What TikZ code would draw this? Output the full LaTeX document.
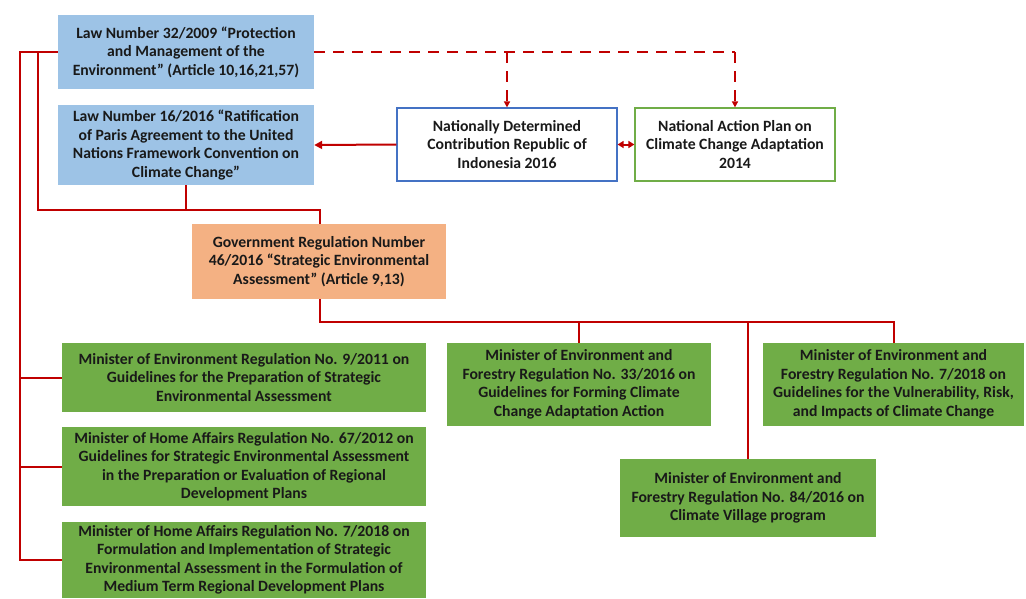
\documentclass[tikz,border=0pt]{standalone}
\usepackage{fontspec}
\setmainfont{Carlito}
\usetikzlibrary{arrows.meta}
\definecolor{lred}{HTML}{C00000}
\definecolor{lblue}{HTML}{9DC3E6}
\definecolor{lorange}{HTML}{F4B183}
\definecolor{lgreen}{HTML}{70AD47}
\definecolor{bblue}{HTML}{4472C4}
\tikzset{
  box/.style={rectangle, inner sep=1pt, align=center, font=\bfseries\fontsize{15.7}{18.5}\selectfont, text=black!90},
  bluebox/.style={box, fill=lblue},
  orangebox/.style={box, fill=lorange},
  greenbox/.style={box, fill=lgreen},
  ndcbox/.style={box, fill=white, draw=bblue, line width=1.2pt},
  napbox/.style={box, fill=white, draw=lgreen, line width=1.2pt},
  conn/.style={draw=lred, line width=2pt},
  dconn/.style={draw=lred, line width=1.6pt, dash pattern=on 11pt off 8pt},
}
\begin{document}
\begin{tikzpicture}[x=1pt,y=-1pt]
\useasboundingbox[fill=white] (0,0) rectangle (1026,598);
\node[bluebox, minimum width=256, minimum height=74] (b1) at (186,52) {Law Number 32/2009 ``Protection\\and Management of the\\Environment'' (Article 10,16,21,57)};
\node[bluebox, minimum width=256, minimum height=80] (b2) at (186,145) {Law Number 16/2016 ``Ratification\\of Paris Agreement to the United\\Nations Framework Convention on\\Climate Change''};
\node[ndcbox, minimum width=220, minimum height=73] (ndc) at (507,144.5) {Nationally Determined\\Contribution Republic of\\Indonesia 2016};
\node[napbox, minimum width=200, minimum height=73] (nap) at (735,144.5) {National Action Plan on\\Climate Change Adaptation\\2014};
\node[orangebox, minimum width=254, minimum height=75] (gr) at (319,261.5) {Government Regulation Number\\46/2016 ``Strategic Environmental\\Assessment'' (Article 9,13)};
\node[greenbox, minimum width=364, minimum height=69] (g1) at (244,377.5) {Minister of Environment Regulation No. 9/2011 on\\Guidelines for the Preparation of Strategic\\Environmental Assessment};
\node[greenbox, minimum width=364, minimum height=79] (g2) at (244,466.5) {Minister of Home Affairs Regulation No. 67/2012 on\\Guidelines for Strategic Environmental Assessment\\in the Preparation or Evaluation of Regional\\Development Plans};
\node[greenbox, minimum width=364, minimum height=76] (g3) at (244,560) {Minister of Home Affairs Regulation No. 7/2018 on\\Formulation and Implementation of Strategic\\Environmental Assessment in the Formulation of\\Medium Term Regional Development Plans};
\node[greenbox, minimum width=264, minimum height=83] (g4) at (579,384.5) {Minister of Environment and\\Forestry Regulation No. 33/2016 on\\Guidelines for Forming Climate\\Change Adaptation Action};
\node[greenbox, minimum width=261, minimum height=83] (g5) at (893.5,384.5) {Minister of Environment and\\Forestry Regulation No. 7/2018 on\\Guidelines for the Vulnerability, Risk,\\and Impacts of Climate Change};
\node[greenbox, minimum width=256, minimum height=78] (g6) at (748,498) {Minister of Environment and\\Forestry Regulation No. 84/2016 on\\Climate Village program};
% coordinates
\coordinate (tl) at (20,52);
\coordinate (t2) at (38,52);
\coordinate (j) at (320,210);
\coordinate (hb) at (320,322);
% left trunk
\draw[conn] (b1.west) -- (tl) |- (g3.west);
\draw[conn] (g1.west -| tl) -- (g1.west);
\draw[conn] (g2.west -| tl) -- (g2.west);
% inner line to GR
\draw[conn] (t2) |- (j) -- (j |- gr.north);
\draw[conn] (b2.south) -- (b2.south |- j);
% GR to bottom
\draw[conn] (hb |- gr.south) -- (hb) -- (hb -| g5.north) -- (g5.north);
\draw[conn] (hb -| g4.north) -- (g4.north);
\draw[conn] (hb -| g6.north) -- (g6.north);
% arrows
\draw[conn, -{Triangle[length=8pt,width=8pt]}] (ndc.west) -- (b2.east);
\draw[conn, {Triangle[length=6pt,width=7pt]}-{Triangle[length=6pt,width=7pt]}] (ndc.east) -- (nap.west);
% dashed
\draw[dconn] (b1.east) -- (b1.east -| nap.north);
\draw[dconn, -{Triangle[length=6pt,width=6pt]}] (b1.east -| nap.north) -- (nap.north);
\draw[dconn, -{Triangle[length=6pt,width=6pt]}] (b1.east -| ndc.north) -- (ndc.north);
\end{tikzpicture}
\end{document}
